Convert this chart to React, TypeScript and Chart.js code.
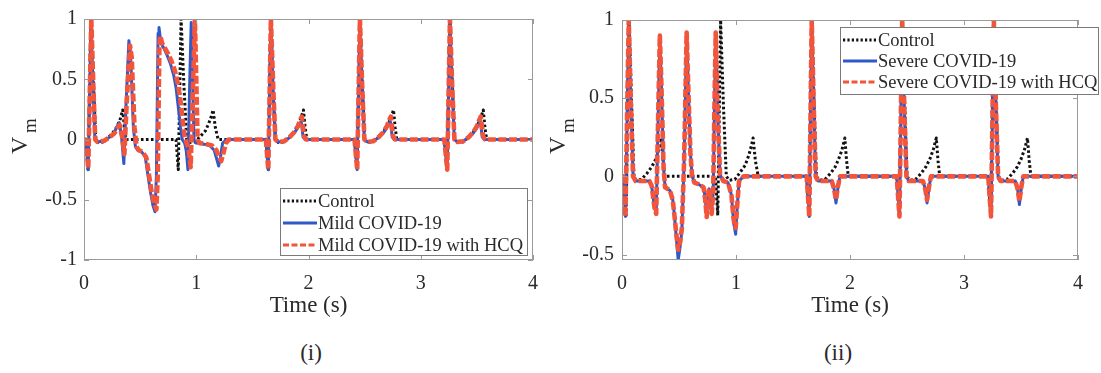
import React, { useEffect, useRef } from "react";
import { Chart, registerables } from "chart.js";

Chart.register(...registerables);

const FONT = "'Liberation Serif', 'Times New Roman', Times, serif";

// ---------- tick values ----------
const xTicks = [0, 1, 2, 3, 4];
const yTicksMild = [-1, -0.5, 0, 0.5, 1];
const yTicksSevere = [-0.5, 0, 0.5, 1];

// ---------- labels ----------
const legendMild = ["Control", "Mild COVID-19", "Mild COVID-19 with HCQ"];
const legendSevere = ["Control", "Severe COVID-19", "Severe COVID-19 with HCQ"];

// ---------- Control (same trace in both panels) ----------
const controlT = [
  0, 0.015, 0.036, 0.062, 0.085, 0.105, 0.125, 0.17, 0.22, 0.26, 0.29, 0.32, 0.345, 0.36, 0.375,
  0.82, 0.84, 0.865, 0.89, 0.915, 0.94, 0.99, 1.04, 1.08, 1.11, 1.13, 1.15, 1.17, 1.195,
  1.62, 1.642, 1.664, 1.685, 1.705, 1.73, 1.78, 1.83, 1.87, 1.9, 1.93, 1.955, 1.97, 1.985,
  2.41, 2.433, 2.458, 2.48, 2.5, 2.525, 2.575, 2.625, 2.665, 2.7, 2.73, 2.757, 2.772, 2.787,
  3.21, 3.235, 3.26, 3.282, 3.302, 3.327, 3.377, 3.427, 3.467, 3.5, 3.53, 3.557, 3.572, 3.587, 4,
];
const controlV = [
  0, 0, -0.25, 1, 0.45, 0, -0.025, -0.02, 0.02, 0.06, 0.1, 0.16, 0.245, 0.1, 0,
  0, -0.25, 1, 0.45, 0, -0.025, -0.02, 0.03, 0.07, 0.13, 0.18, 0.245, 0.1, 0,
  0, -0.25, 1, 0.45, 0, -0.025, -0.02, 0.02, 0.06, 0.11, 0.17, 0.245, 0.1, 0,
  0, -0.25, 1, 0.45, 0, -0.025, -0.02, 0.02, 0.06, 0.11, 0.17, 0.245, 0.1, 0,
  0, -0.25, 1, 0.45, 0, -0.025, -0.02, 0.02, 0.06, 0.11, 0.17, 0.245, 0.1, 0, 0,
];

// ---------- Mild COVID-19 ----------
const mildT = [
  0, 0.015, 0.038, 0.062, 0.08, 0.097, 0.12, 0.18, 0.23, 0.27, 0.3, 0.315, 0.335, 0.355, 0.375,
  0.4, 0.415, 0.44, 0.458, 0.48, 0.51, 0.545, 0.57, 0.595, 0.615, 0.633, 0.645, 0.66, 0.668,
  0.685, 0.71, 0.74, 0.77, 0.8, 0.82, 0.84, 0.86, 0.875, 0.897, 0.912, 0.926, 0.94, 0.955, 0.967,
  0.98, 1.0, 1.05, 1.12, 1.16, 1.185, 1.2, 1.215, 1.235, 1.27,
  1.62, 1.642, 1.664, 1.684, 1.703, 1.73, 1.78, 1.83, 1.87, 1.9, 1.92, 1.935, 1.952, 1.97,
  2.41, 2.433, 2.458, 2.478, 2.497, 2.524, 2.574, 2.624, 2.664, 2.694, 2.714, 2.729, 2.746, 2.764,
  3.21, 3.235, 3.26, 3.28, 3.299, 3.326, 3.376, 3.426, 3.466, 3.496, 3.516, 3.531, 3.548, 3.566, 4,
];
const mildV = [
  0, 0, -0.25, 1, 0.45, 0, -0.02, -0.01, 0.02, 0.06, 0.12, 0.14, 0.02, -0.2, 0.3,
  0.82, 0.7, 0.1, -0.06, -0.09, -0.1, -0.14, -0.3, -0.45, -0.55, -0.6, -0.3, 0.88, 0.93,
  0.8, 0.76, 0.7, 0.63, 0.53, 0.43, 0.27, 0.1, 0, -0.03, -0.1, -0.25, 0.4, 0.97, 0.5,
  0, -0.03, -0.035, -0.05, -0.09, -0.17, -0.22, -0.15, -0.03, 0,
  0, -0.25, 1, 0.42, 0, -0.02, -0.015, 0.015, 0.05, 0.09, 0.13, 0.15, 0.02, 0,
  0, -0.25, 1, 0.42, 0, -0.02, -0.015, 0.015, 0.05, 0.09, 0.13, 0.15, 0.02, 0,
  0, -0.25, 1, 0.42, 0, -0.02, -0.015, 0.015, 0.05, 0.09, 0.13, 0.15, 0.02, 0, 0,
];

// ---------- Mild COVID-19 with HCQ ----------
const mildHcqT = [
  0, 0.015, 0.038, 0.065, 0.083, 0.1, 0.12, 0.18, 0.23, 0.27, 0.3, 0.318, 0.34, 0.36, 0.38,
  0.41, 0.425, 0.45, 0.468, 0.49, 0.52, 0.555, 0.58, 0.605, 0.625, 0.645, 0.657, 0.672, 0.68,
  0.695, 0.72, 0.75, 0.78, 0.81, 0.835, 0.86, 0.88, 0.897, 0.915, 0.935, 0.95, 0.97, 0.988, 1.0,
  1.012, 1.03, 1.08, 1.14, 1.18, 1.205, 1.222, 1.24, 1.265, 1.29,
  1.62, 1.642, 1.665, 1.685, 1.705, 1.732, 1.782, 1.832, 1.872, 1.905, 1.925, 1.94, 1.96, 1.978,
  2.41, 2.434, 2.458, 2.478, 2.498, 2.525, 2.575, 2.625, 2.665, 2.698, 2.718, 2.733, 2.753, 2.771,
  3.21, 3.236, 3.26, 3.28, 3.3, 3.327, 3.377, 3.427, 3.467, 3.5, 3.52, 3.535, 3.555, 3.573, 4,
];
const mildHcqV = [
  0, 0, -0.24, 1, 0.45, 0, -0.02, -0.01, 0.02, 0.05, 0.1, 0.12, 0.02, -0.12, 0.3,
  0.78, 0.68, 0.1, -0.06, -0.09, -0.1, -0.15, -0.3, -0.45, -0.53, -0.58, -0.3, 0.8, 0.86,
  0.8, 0.76, 0.71, 0.65, 0.57, 0.47, 0.32, 0.15, 0.02, -0.03, -0.1, -0.23, 0.4, 1, 0.5,
  0, -0.03, -0.035, -0.05, -0.09, -0.15, -0.18, -0.12, -0.03, 0,
  0, -0.25, 1, 0.45, 0, -0.02, -0.015, 0.02, 0.06, 0.11, 0.16, 0.19, 0.03, 0,
  0, -0.25, 1, 0.45, 0, -0.02, -0.015, 0.02, 0.06, 0.11, 0.16, 0.19, 0.03, 0,
  0, -0.25, 1, 0.45, 0, -0.02, -0.015, 0.02, 0.06, 0.11, 0.16, 0.19, 0.03, 0, 0,
];

// ---------- Severe COVID-19 ----------
const severeT = [
  0, 0.012, 0.03, 0.059, 0.078, 0.097, 0.12, 0.24, 0.26, 0.285, 0.3, 0.315, 0.332, 0.345, 0.365,
  0.378, 0.42, 0.445, 0.46, 0.475, 0.493, 0.51, 0.525, 0.545, 0.567, 0.58, 0.6, 0.615, 0.635, 0.67,
  0.715, 0.73, 0.743, 0.755, 0.765, 0.775, 0.787, 0.8, 0.81, 0.822, 0.835, 0.86, 0.89, 0.93, 0.96,
  0.98, 0.997, 1.01, 1.027, 1.066,
  1.62, 1.643, 1.664, 1.682, 1.699, 1.72, 1.84, 1.86, 1.877, 1.893, 1.912,
  2.41, 2.434, 2.458, 2.476, 2.495, 2.515, 2.64, 2.66, 2.676, 2.692, 2.71,
  3.213, 3.237, 3.262, 3.28, 3.299, 3.32, 3.45, 3.47, 3.486, 3.502, 3.52, 4,
];
const severeV = [
  0, 0, -0.257, 1, 0.45, 0, -0.03, -0.03, -0.06, -0.2, -0.24, 0.3, 0.9, 0.6, 0.05,
  -0.07, -0.09, -0.15, -0.25, -0.38, -0.535, -0.45, -0.35, 0.1, 0.92, 0.6, 0.15, 0, -0.04, -0.05,
  -0.07, -0.14, -0.25, -0.12, -0.08, -0.12, -0.22, -0.1, 0.4, 0.92, 0.5, 0.01, -0.03, -0.04, -0.12,
  -0.3, -0.37, -0.2, -0.03, 0,
  0, -0.257, 1, 0.45, 0, -0.03, -0.03, -0.08, -0.17, -0.08, 0,
  0, -0.257, 1, 0.45, 0, -0.03, -0.03, -0.08, -0.17, -0.08, 0,
  0, -0.257, 1, 0.45, 0, -0.03, -0.03, -0.08, -0.18, -0.08, 0, 0,
];

// ---------- Severe COVID-19 with HCQ ----------
const severeHcqT = [
  0, 0.012, 0.03, 0.059, 0.078, 0.097, 0.12, 0.24, 0.26, 0.285, 0.3, 0.315, 0.332, 0.345, 0.365,
  0.378, 0.42, 0.445, 0.46, 0.475, 0.493, 0.51, 0.525, 0.545, 0.567, 0.58, 0.6, 0.615, 0.635, 0.67,
  0.715, 0.73, 0.743, 0.755, 0.765, 0.775, 0.787, 0.8, 0.81, 0.822, 0.835, 0.86, 0.89, 0.93, 0.96,
  0.98, 0.997, 1.01, 1.027, 1.066,
  1.62, 1.643, 1.664, 1.682, 1.699, 1.72, 1.84, 1.86, 1.877, 1.893, 1.912,
  2.41, 2.434, 2.458, 2.476, 2.495, 2.515, 2.64, 2.66, 2.676, 2.692, 2.71,
  3.213, 3.237, 3.262, 3.28, 3.299, 3.32, 3.45, 3.47, 3.486, 3.502, 3.52, 4,
];
const severeHcqV = [
  0, 0, -0.257, 1, 0.45, 0, -0.03, -0.03, -0.06, -0.2, -0.24, 0.3, 0.9, 0.6, 0.05,
  -0.07, -0.09, -0.15, -0.25, -0.36, -0.47, -0.42, -0.33, 0.1, 0.92, 0.6, 0.15, 0, -0.04, -0.05,
  -0.07, -0.15, -0.26, -0.12, -0.08, -0.13, -0.24, -0.1, 0.4, 0.92, 0.5, 0.01, -0.03, -0.04, -0.12,
  -0.28, -0.33, -0.19, -0.03, 0,
  0, -0.257, 1, 0.45, 0, -0.03, -0.03, -0.08, -0.15, -0.07, 0,
  0, -0.257, 1, 0.45, 0, -0.03, -0.03, -0.08, -0.15, -0.07, 0,
  0, -0.257, 1, 0.45, 0, -0.03, -0.03, -0.08, -0.16, -0.07, 0, 0,
];

// ---------- styles ----------
const BLACK = "#111111";
const BLUE = "#2f59c9";
const RED = "#f2553a";
const AXIS = "#9a9a9a";
const TEXT = "#2a2a2a";

const toPoints = (t: number[], v: number[]) => t.map((x, i) => ({ x, y: v[i] }));

const legendDashes: Record<number, number[]> = { 0: [2.2, 2.2], 1: [], 2: [6, 2.5] };

const boxPlugin = {
  id: "matlabBox",
  afterDatasetsDraw(chart: any, _args: any, opts: any) {
    const { ctx, chartArea: a, scales } = chart;
    ctx.save();
    ctx.strokeStyle = opts.color;
    ctx.lineWidth = 1;
    ctx.setLineDash([]);
    ctx.strokeRect(a.left + 0.5, a.top + 0.5, a.right - a.left - 1, a.bottom - a.top - 1);
    const L = opts.tickLen;
    ctx.beginPath();
    for (const tk of scales.x.ticks) {
      const px = Math.round(scales.x.getPixelForValue(tk.value)) + 0.5;
      ctx.moveTo(px, a.bottom);
      ctx.lineTo(px, a.bottom - L);
      ctx.moveTo(px, a.top);
      ctx.lineTo(px, a.top + L);
    }
    for (const tk of scales.y.ticks) {
      const py = Math.round(scales.y.getPixelForValue(tk.value)) + 0.5;
      ctx.moveTo(a.left, py);
      ctx.lineTo(a.left + L, py);
      ctx.moveTo(a.right, py);
      ctx.lineTo(a.right - L, py);
    }
    ctx.stroke();
    ctx.restore();
  },
};

const boxLegendPlugin = {
  id: "boxLegend",
  afterDraw(chart: any, _args: any, opts: any) {
    const { ctx } = chart;
    const { x, y, w, h, firstRow, rowGap, sampleLen } = opts;
    ctx.save();
    ctx.fillStyle = "#ffffff";
    ctx.fillRect(x, y, w, h);
    ctx.strokeStyle = opts.borderColor;
    ctx.lineWidth = 1;
    ctx.strokeRect(x + 0.5, y + 0.5, w, h);
    chart.data.datasets.forEach((ds: any, i: number) => {
      const ry = y + firstRow + i * rowGap;
      ctx.beginPath();
      ctx.setLineDash(legendDashes[i] || []);
      ctx.strokeStyle = ds.borderColor;
      ctx.lineWidth = Math.min(ds.borderWidth, 3);
      ctx.moveTo(x + 3, ry);
      ctx.lineTo(x + 3 + sampleLen, ry);
      ctx.stroke();
      ctx.setLineDash([]);
      ctx.fillStyle = opts.textColor;
      ctx.font = opts.font;
      ctx.textAlign = "left";
      ctx.textBaseline = "middle";
      ctx.fillText(ds.label, x + 4 + sampleLen, ry + 1);
    });
    ctx.restore();
  },
};

const vmPlugin = {
  id: "vmLabel",
  afterDraw(chart: any, _args: any, opts: any) {
    const { ctx } = chart;
    ctx.save();
    ctx.fillStyle = opts.color;
    ctx.translate(opts.x, opts.y);
    ctx.rotate(-Math.PI / 2);
    ctx.textAlign = "left";
    ctx.textBaseline = "alphabetic";
    ctx.font = `${opts.size}px ${FONT}`;
    ctx.fillText("V", 0, 0);
    ctx.font = `${opts.subSize}px ${FONT}`;
    ctx.fillText("m", opts.subDx, opts.subDy);
    ctx.restore();
  },
};

type PanelSpec = {
  labels: string[];
  series: { t: number[]; v: number[] }[];
  yMin: number;
  yTicks: number[];
  padTop: number;
  padRight: number;
  yAxisW: number;
  xAxisH: number;
  yTickPad: number;
  legend: { x: number; y: number; w: number; h: number; firstRow: number; rowGap: number };
  vm: { x: number; y: number };
};

function makeConfig(p: PanelSpec): any {
  const colors = [BLACK, BLUE, RED];
  const widths = [3, 3, 4.6];
  const dashes = [[2.6, 2.4], [], [8, 2.6]];
  const orders = [3, 2, 1];
  const tickFont = { family: FONT, size: 20 };
  return {
    type: "line",
    data: {
      datasets: p.series.map((s, i) => ({
        label: p.labels[i],
        data: toPoints(s.t, s.v),
        borderColor: colors[i],
        backgroundColor: colors[i],
        borderWidth: widths[i],
        borderDash: dashes[i],
        borderJoinStyle: "round",
        pointRadius: 0,
        tension: 0,
        fill: false,
        order: orders[i],
      })),
    },
    options: {
      animation: false,
      responsive: false,
      maintainAspectRatio: false,
      events: [],
      layout: { padding: { top: p.padTop, right: p.padRight, left: 0, bottom: 0 } },
      scales: {
        x: {
          type: "linear",
          min: 0,
          max: 4,
          afterBuildTicks: (s: any) => {
            s.ticks = xTicks.map((v) => ({ value: v }));
          },
          afterFit: (s: any) => {
            s.height = p.xAxisH;
          },
          grid: { display: false, drawTicks: false },
          border: { display: false },
          ticks: { padding: 12, font: tickFont, color: TEXT, maxRotation: 0, callback: (v: any) => String(v) },
          title: {
            display: true,
            text: "Time (s)",
            font: { family: FONT, size: 23 },
            color: TEXT,
            padding: { top: 0, bottom: 10 },
          },
        },
        y: {
          type: "linear",
          min: p.yMin,
          max: 1,
          afterBuildTicks: (s: any) => {
            s.ticks = p.yTicks.map((v) => ({ value: v }));
          },
          afterFit: (s: any) => {
            s.width = p.yAxisW;
          },
          grid: { display: false, drawTicks: false },
          border: { display: false },
          ticks: { padding: p.yTickPad, font: tickFont, color: TEXT, callback: (v: any) => String(v) },
        },
      },
      plugins: {
        legend: { display: false },
        tooltip: { enabled: false },
        matlabBox: { color: AXIS, tickLen: 5 },
        boxLegend: {
          ...p.legend,
          sampleLen: 34,
          font: `18.5px ${FONT}`,
          textColor: TEXT,
          borderColor: "#7a7a7a",
        },
        vmLabel: { ...p.vm, size: 24, subSize: 19, subDx: 21, subDy: 9, color: TEXT },
      },
    },
    plugins: [boxPlugin, boxLegendPlugin, vmPlugin],
  };
}

const panelMild: PanelSpec = {
  labels: legendMild,
  series: [
    { t: controlT, v: controlV },
    { t: mildT, v: mildV },
    { t: mildHcqT, v: mildHcqV },
  ],
  yMin: -1,
  yTicks: yTicksMild,
  padTop: 16,
  padRight: 11,
  yAxisW: 84,
  xAxisH: 70,
  yTickPad: 7,
  legend: { x: 280, y: 188, w: 247, h: 67, firstRow: 13, rowGap: 22 },
  vm: { x: 27, y: 154 },
};

const panelSevere: PanelSpec = {
  labels: legendSevere,
  series: [
    { t: controlT, v: controlV },
    { t: severeT, v: severeV },
    { t: severeHcqT, v: severeHcqV },
  ],
  yMin: -0.535,
  yTicks: yTicksSevere,
  padTop: 16,
  padRight: 23,
  yAxisW: 82,
  xAxisH: 70,
  yTickPad: 8,
  legend: { x: 300, y: 27, w: 258, h: 67, firstRow: 13, rowGap: 21 },
  vm: { x: 25, y: 154 },
};

export default function App() {
  const ref1 = useRef<HTMLCanvasElement | null>(null);
  const ref2 = useRef<HTMLCanvasElement | null>(null);

  useEffect(() => {
    const c1 = new Chart(ref1.current as HTMLCanvasElement, makeConfig(panelMild));
    const c2 = new Chart(ref2.current as HTMLCanvasElement, makeConfig(panelSevere));
    return () => {
      c1.destroy();
      c2.destroy();
    };
  }, []);

  const caption: React.CSSProperties = {
    position: "absolute",
    top: 352,
    transform: "translate(-50%, -50%)",
    fontFamily: FONT,
    fontSize: 23,
    color: TEXT,
    lineHeight: 1,
  };

  return (
    <div style={{ position: "absolute", left: 0, top: 0, width: 1101, height: 373, background: "#fff", overflow: "hidden" }}>
      <canvas ref={ref1} width={550} height={330} style={{ position: "absolute", left: 0, top: 0 }} />
      <canvas ref={ref2} width={561} height={330} style={{ position: "absolute", left: 540, top: 0 }} />
      <div style={{ ...caption, left: 311 }}>(i)</div>
      <div style={{ ...caption, left: 838 }}>(ii)</div>
    </div>
  );
}
